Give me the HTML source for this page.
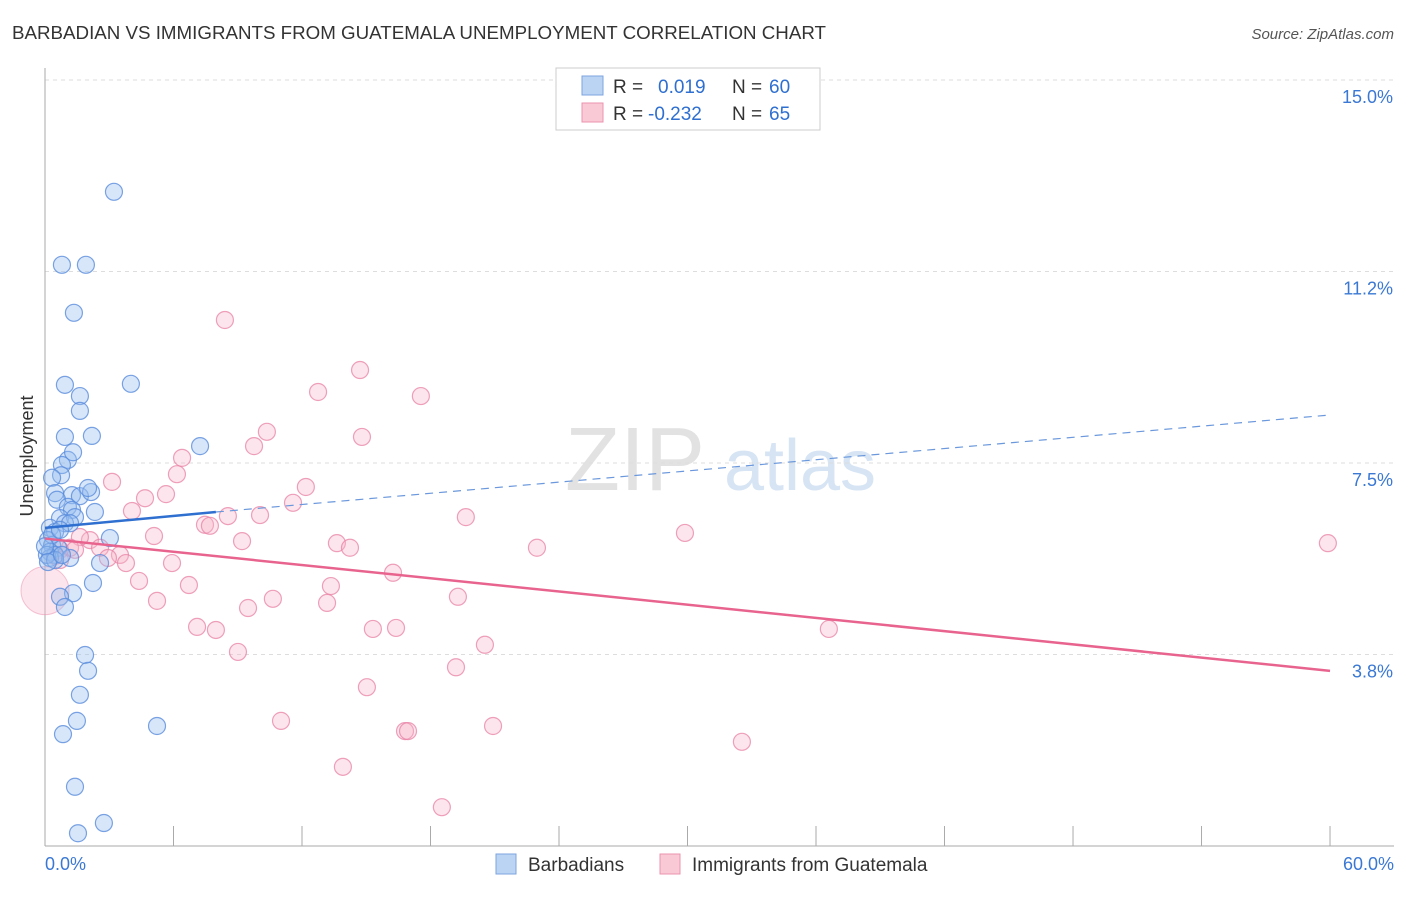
<!DOCTYPE html>
<html><head><meta charset="utf-8"><style>
body{margin:0;background:#fff;font-family:"Liberation Sans",sans-serif}
svg text{font-family:"Liberation Sans",sans-serif}
</style></head><body>
<svg id="c" width="1406" height="892">
<text x="12" y="39" font-size="18" fill="#333" textLength="814" lengthAdjust="spacingAndGlyphs">BARBADIAN VS IMMIGRANTS FROM GUATEMALA UNEMPLOYMENT CORRELATION CHART</text>
<text x="1394" y="39" font-size="15" fill="#555" font-style="italic" text-anchor="end">Source: ZipAtlas.com</text>
<text x="33" y="456" font-size="18" fill="#333" transform="rotate(-90 33 456)" text-anchor="middle">Unemployment</text>
<g><text x="635" y="490" font-size="90" fill="#e2e2e2" font-family="Liberation Serif" text-anchor="middle">ZIP</text><text x="800" y="490" font-size="72" fill="#d6e4f4" text-anchor="middle">atlas</text></g>
<g id="grid"></g><g id="axes"></g><g id="pts"></g><g id="trend"></g>
<g>
<rect x="556" y="68" width="264" height="62" fill="#fff" stroke="#ccc"/>
<rect x="582" y="76" width="21" height="19" fill="#bcd4f4" stroke="#7ca4e0"/>
<rect x="582" y="103" width="21" height="19" fill="#f9c9d6" stroke="#eb93ae"/>
<text x="613" y="93" font-size="19" fill="#333">R = <tspan fill="#2e6fd0" x="658">0.019</tspan><tspan x="732" fill="#333">N =</tspan><tspan x="769" fill="#2e6fd0">60</tspan></text>
<text x="613" y="120" font-size="19" fill="#333">R = <tspan fill="#2e6fd0" x="648">-0.232</tspan><tspan x="732" fill="#333">N =</tspan><tspan x="769" fill="#2e6fd0">65</tspan></text>
</g>
<g>
<rect x="496" y="854" width="20" height="20" fill="#bcd4f4" stroke="#7ca4e0"/>
<text x="528" y="871" font-size="19" fill="#333">Barbadians</text>
<rect x="660" y="854" width="20" height="20" fill="#f9c9d6" stroke="#eb93ae"/>
<text x="692" y="871" font-size="19" fill="#333">Immigrants from Guatemala</text>
</g>
</svg>
<script>
const yTicks=[15.0,11.25,7.5,3.75];
const yTickLabels=["15.0%","11.2%","7.5%","3.8%"];
const xEndLabels=["0.0%","60.0%"];
const blueX=[3.22,0.79,1.91,1.35,0.93,4.01,1.63,1.63,0.93,2.19,7.24,1.07,1.31,0.79,0.75,0.33,0.47,1.26,1.63,2.15,2.01,0.56,1.07,1.26,2.33,0.70,1.40,0.93,1.17,0.23,0.47,3.03,0.14,0.33,0.61,0.23,0.47,1.17,2.57,2.24,1.31,0.70,0.93,1.87,2.01,1.63,1.49,0.84,5.23,1.40,2.75,1.54,0.23,0.09,0.47,0.33,0.70,0.0,0.14,0.79];
const blueY=[12.81,11.38,11.38,10.44,9.03,9.05,8.81,8.52,8.01,8.03,7.83,7.56,7.71,7.46,7.26,7.21,6.91,6.87,6.85,6.93,7.01,6.78,6.64,6.58,6.54,6.42,6.44,6.32,6.32,6.23,6.15,6.03,5.99,5.89,5.84,5.76,5.70,5.64,5.54,5.15,4.95,4.88,4.68,3.74,3.43,2.96,2.45,2.19,2.35,1.16,0.45,0.25,5.64,5.70,5.60,6.09,6.19,5.87,5.56,5.70];
const pinkX=[8.40,14.71,12.75,17.55,10.36,14.80,9.76,6.40,6.16,3.13,12.18,5.65,4.67,11.58,8.54,10.04,19.65,4.06,7.47,7.70,29.88,5.09,9.20,13.63,14.24,22.97,59.90,2.10,1.63,2.57,3.50,3.78,2.94,1.17,0.70,0.47,5.93,16.25,4.39,13.35,6.72,19.28,5.23,10.64,13.17,9.48,7.10,7.98,15.31,16.39,36.60,9.01,20.54,19.19,15.03,11.02,20.92,16.81,16.95,32.54,13.91,18.53,0.70,1.40];
const pinkY=[10.30,9.32,8.89,8.81,8.11,8.01,7.83,7.60,7.28,7.13,7.03,6.89,6.81,6.72,6.46,6.48,6.44,6.56,6.29,6.27,6.13,6.07,5.97,5.93,5.84,5.84,5.93,5.99,6.05,5.84,5.70,5.54,5.64,5.84,5.80,5.68,5.54,5.35,5.19,5.09,5.11,4.88,4.80,4.84,4.76,4.66,4.29,4.23,4.25,4.27,4.25,3.80,3.94,3.50,3.11,2.45,2.35,2.25,2.25,2.04,1.55,0.76,5.60,5.80];
const blueTrend=[0,6.23,7.98,6.54,60,8.44];
const pinkTrend=[0,6.02,60,3.43];
const NS="http://www.w3.org/2000/svg";
const X=v=>45+v*21.417, Y=v=>846-v*51.07;
function mk(t,a,p){const e=document.createElementNS(NS,t);for(const k in a)e.setAttribute(k,a[k]);p.appendChild(e);return e;}
const g=document.getElementById('grid'),ax=document.getElementById('axes'),pts=document.getElementById('pts'),tr=document.getElementById('trend');
yTicks.forEach((v,i)=>{
 const l=mk('line',{x1:45,x2:1394,y1:Y(v),y2:Y(v),stroke:'#ddd','stroke-dasharray':'4 4'},g);
 
 
 const t=mk('text',{x:1393,y:Y(v)+23,'font-size':18,fill:'#3a78d4','text-anchor':'end'},g);t.textContent=yTickLabels[i];
 
 
});
const yl=mk('line',{x1:45,x2:45,y1:68,y2:846,stroke:'#aaa'},ax);


const xl=mk('line',{x1:45,x2:1394,y1:846,y2:846,stroke:'#aaa'},ax);


for(let i=0;i<=10;i++){const t=mk('line',{x1:X(i*6),x2:X(i*6),y1:826,y2:846,stroke:'#aaa'},ax);
 
 }
[[0,'start',45],[60,'end',1394]].forEach((d,i)=>{const t=mk('text',{x:d[2],y:870,'font-size':18,fill:'#3a78d4','text-anchor':d[1]},ax);t.textContent=xEndLabels[i];
 
 });
const big=mk('circle',{cx:X(0),cy:Y(5.0),r:24,fill:'rgba(246,180,200,0.35)',stroke:'rgba(235,140,170,0.5)'},pts);


pinkX.forEach((x,i)=>{const c=mk('circle',{cx:X(x),cy:Y(pinkY[i]),r:8.5,fill:'rgba(246,180,200,0.35)',stroke:'rgba(232,130,165,0.75)','stroke-width':1.2},pts);
 
 });
blueX.forEach((x,i)=>{const c=mk('circle',{cx:X(x),cy:Y(blueY[i]),r:8.5,fill:'rgba(150,190,240,0.38)',stroke:'rgba(90,140,220,0.8)','stroke-width':1.2},pts);
 
 });
const b1=mk('line',{x1:X(blueTrend[0]),y1:Y(blueTrend[1]),x2:X(blueTrend[2]),y2:Y(blueTrend[3]),stroke:'#2e6fd0','stroke-width':2.5},tr);


const b2=mk('line',{x1:X(blueTrend[2]),y1:Y(blueTrend[3]),x2:X(blueTrend[4]),y2:Y(blueTrend[5]),stroke:'#6b98dc','stroke-width':1.2,'stroke-dasharray':'8 6'},tr);


const p1=mk('line',{x1:X(pinkTrend[0]),y1:Y(pinkTrend[1]),x2:X(pinkTrend[2]),y2:Y(pinkTrend[3]),stroke:'#e8648f','stroke-width':2.5},tr);


</script>
</body></html>
